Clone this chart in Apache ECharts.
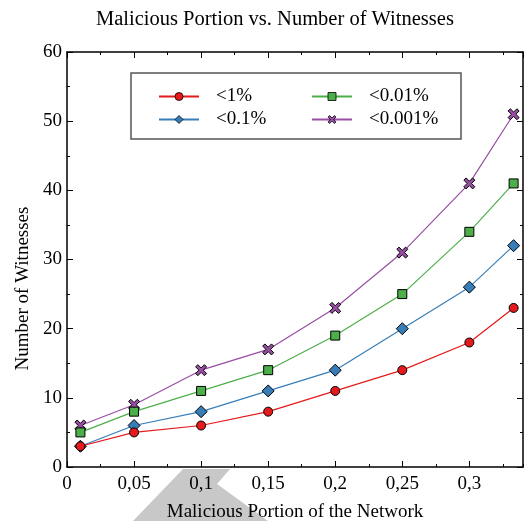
<!DOCTYPE html>
<html><head><meta charset="utf-8">
<script src="https://cdn.jsdelivr.net/npm/echarts@6/dist/echarts.min.js"></script>
<style>html,body{margin:0;padding:0;background:#fff}#c{width:530px;height:521px}</style>
</head><body><div id="c"></div>
<script>
const xValues = [0.01, 0.05, 0.1, 0.15, 0.2, 0.25, 0.3, 0.333];
const s1 = [3, 5, 6, 8, 11, 14, 18, 23];      // <1%
const s2 = [3, 6, 8, 11, 14, 20, 26, 32];     // <0.1%
const s3 = [5, 8, 11, 14, 19, 25, 34, 41];    // <0.01%
const s4 = [6, 9, 14, 17, 23, 31, 41, 51];    // <0.001%
const seriesNames = ['<1%', '<0.1%', '<0.01%', '<0.001%'];
const titleText = 'Malicious Portion vs. Number of Witnesses';
const xName = 'Malicious Portion of the Network';
const yName = 'Number of Witnesses';

const FONT = 'Liberation Serif';
const crossPath = 'path://M2,0 L5,3 L8,0 L10,2 L7,5 L10,8 L8,10 L5,7 L2,10 L0,8 L3,5 L0,2 Z';
const colors = ['#e41a1c', '#377eb8', '#4daf4a', '#984ea3'];
const symbols = ['circle', 'diamond', 'rect', crossPath];
const sizes = [9, 12, 9, 11];
const datas = [s1, s2, s3, s4];

function mk(i) {
  return {
    name: seriesNames[i], type: 'line', xAxisIndex: 0, yAxisIndex: 0,
    data: xValues.map((x, k) => [x, datas[i][k]]),
    symbol: symbols[i], symbolSize: sizes[i],
    lineStyle: { color: colors[i], width: 1.2 },
    itemStyle: { color: colors[i], borderColor: '#000', borderWidth: 1 },
    z: 10 - i, animation: false
  };
}

const fmt = v => {
  const r = Math.round(v * 1000) / 1000;
  if (Math.abs(r / 0.05 - Math.round(r / 0.05)) > 1e-6) return '';
  return String(r).replace('.', ',');
};

function xa(pos, interval, len, labels, line) {
  return {
    type: 'value', position: pos, min: 0, max: 0.34, interval: interval,
    axisLine: { show: line, onZero: false, lineStyle: { color: '#000', width: 1.5 } },
    axisTick: { show: true, inside: true, length: len, lineStyle: { color: '#000', width: 1 } },
    axisLabel: { show: labels, formatter: fmt, fontFamily: FONT, fontSize: 19, color: '#000', margin: 8, showMaxLabel: false },
    splitLine: { show: false },
    name: labels ? xName : '', nameLocation: 'middle', nameGap: 36,
    nameTextStyle: { fontFamily: FONT, fontSize: 19, color: '#000' }
  };
}
function ya(pos, interval, len, labels, line) {
  return {
    type: 'value', position: pos, min: 0, max: 60, interval: interval,
    axisLine: { show: line, onZero: false, lineStyle: { color: '#000', width: 1.5 } },
    axisTick: { show: true, inside: true, length: len, lineStyle: { color: '#000', width: 1 } },
    axisLabel: { show: labels, fontFamily: FONT, fontSize: 19, color: '#000', margin: 5 },
    splitLine: { show: false },
    name: labels ? yName : '', nameLocation: 'middle', nameGap: 31,
    nameTextStyle: { fontFamily: FONT, fontSize: 19, color: '#000', padding: [0, 58, 0, 0] }
  };
}

const legendBase = { orient: 'vertical', top: 82, itemWidth: 40, itemHeight: 10, itemGap: 4,
  itemStyle: { borderWidth: 0.8 },
  textStyle: { fontFamily: FONT, fontSize: 19, color: '#000', padding: [0, 0, 0, 12] } };

const chart = echarts.init(document.getElementById('c'), null, { renderer: 'canvas' });
chart.setOption({
  animation: false,
  backgroundColor: '#fff',
  title: { text: titleText, left: 91, top: 4, textStyle: { fontFamily: FONT, fontSize: 20.5, fontWeight: 'normal', color: '#000' } },
  grid: { left: 67, right: 7, top: 52, bottom: 54, outerBoundsMode: 'none', containLabel: false },
  xAxis: [xa('bottom', 0.05, 6, true, true), xa('bottom', 0.025, 3, false, false),
          xa('top', 0.05, 6, false, true), xa('top', 0.025, 3, false, false)],
  yAxis: [ya('left', 10, 6, true, true), ya('left', 5, 3, false, false),
          ya('right', 10, 6, false, true), ya('right', 5, 3, false, false)],
  legend: [
    Object.assign({}, legendBase, { data: [seriesNames[0], seriesNames[1]], left: 153 }),
    Object.assign({}, legendBase, { data: [seriesNames[2], seriesNames[3]], left: 306 })
  ],
  graphic: [
    { type: 'polygon', z: -10, silent: true,
      shape: { points: [[183, 469], [230, 469], [217, 484], [268, 521], [133, 521]] },
      style: { fill: '#c8c8c8' } },
    { type: 'rect', z: 1, silent: true, shape: { x: 131, y: 73, width: 330, height: 66 },
      style: { fill: '#fff', stroke: '#555', lineWidth: 1.5 } }
  ],
  series: [mk(3), mk(2), mk(1), mk(0)]
});
</script>
</body></html>
